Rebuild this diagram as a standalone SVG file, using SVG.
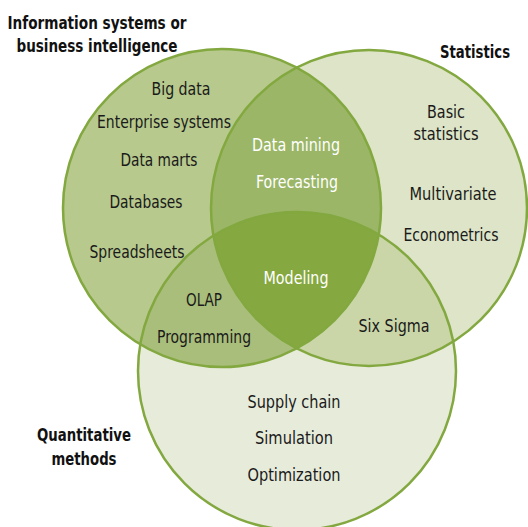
<svg xmlns="http://www.w3.org/2000/svg" width="528" height="527" viewBox="0 0 528 527">
<defs>
<clipPath id="cL"><circle cx="222" cy="208" r="159"/></clipPath>
<clipPath id="cR"><circle cx="369" cy="208" r="158"/></clipPath>
<clipPath id="cB"><circle cx="297" cy="371" r="159"/></clipPath>
<style>
.t{font-family:"DejaVu Sans Condensed","DejaVu Sans",sans-serif;font-size:17px;fill:#1a1a1a;text-anchor:middle}
.w{fill:#ffffff}
.h{font-family:"DejaVu Sans Condensed","DejaVu Sans",sans-serif;font-size:18px;font-weight:bold;fill:#111;text-anchor:middle}
.s{fill:none;stroke:#82a83f;stroke-width:2.5}
</style>
</defs>
<rect width="528" height="527" fill="#ffffff"/>
<g id="regions">
<circle cx="222" cy="208" r="159" fill="#b7c98d"/>
<circle cx="369" cy="208" r="158" fill="#dde4c7"/>
<circle cx="297" cy="371" r="159" fill="#e7ebda"/>
<g clip-path="url(#cL)"><circle cx="369" cy="208" r="158" fill="#9bb667"/></g>
<g clip-path="url(#cL)"><circle cx="297" cy="371" r="159" fill="#a9be7b"/></g>
<g clip-path="url(#cR)"><circle cx="297" cy="371" r="159" fill="#cad6a8"/></g>
<g clip-path="url(#cL)"><g clip-path="url(#cR)"><circle cx="297" cy="371" r="159" fill="#86a840"/></g></g>
</g>
<g id="outlines">
<circle class="s" cx="222" cy="208" r="159"/>
<circle class="s" cx="369" cy="208" r="158"/>
<circle class="s" cx="297" cy="371" r="159"/>
</g>
<g id="info">
<text class="h" x="97" y="29" textLength="179" lengthAdjust="spacingAndGlyphs">Information systems or</text>
<text class="h" x="97" y="52" textLength="161" lengthAdjust="spacingAndGlyphs">business intelligence</text>
<text class="t" x="181" y="95" textLength="59" lengthAdjust="spacingAndGlyphs">Big data</text>
<text class="t" x="164" y="128" textLength="134" lengthAdjust="spacingAndGlyphs">Enterprise systems</text>
<text class="t" x="159" y="166" textLength="77" lengthAdjust="spacingAndGlyphs">Data marts</text>
<text class="t" x="146" y="208" textLength="73" lengthAdjust="spacingAndGlyphs">Databases</text>
<text class="t" x="137" y="258" textLength="95" lengthAdjust="spacingAndGlyphs">Spreadsheets</text>
</g>
<g id="stats">
<text class="h" x="475" y="58" textLength="70" lengthAdjust="spacingAndGlyphs">Statistics</text>
<text class="t" x="446" y="118" textLength="38" lengthAdjust="spacingAndGlyphs">Basic</text>
<text class="t" x="446" y="140" textLength="65" lengthAdjust="spacingAndGlyphs">statistics</text>
<text class="t" x="453" y="200" textLength="87" lengthAdjust="spacingAndGlyphs">Multivariate</text>
<text class="t" x="451" y="241" textLength="95" lengthAdjust="spacingAndGlyphs">Econometrics</text>
</g>
<g id="quant">
<text class="h" x="84" y="441" textLength="94" lengthAdjust="spacingAndGlyphs">Quantitative</text>
<text class="h" x="84" y="465" textLength="65" lengthAdjust="spacingAndGlyphs">methods</text>
<text class="t" x="294" y="408" textLength="93" lengthAdjust="spacingAndGlyphs">Supply chain</text>
<text class="t" x="294" y="444" textLength="78" lengthAdjust="spacingAndGlyphs">Simulation</text>
<text class="t" x="294" y="481" textLength="93" lengthAdjust="spacingAndGlyphs">Optimization</text>
</g>
<g id="info-stats">
<text class="t w" x="296" y="151" textLength="88" lengthAdjust="spacingAndGlyphs">Data mining</text>
<text class="t w" x="297" y="188" textLength="82" lengthAdjust="spacingAndGlyphs">Forecasting</text>
</g>
<g id="info-quant">
<text class="t" x="204" y="306" textLength="36" lengthAdjust="spacingAndGlyphs">OLAP</text>
<text class="t" x="204" y="343" textLength="94" lengthAdjust="spacingAndGlyphs">Programming</text>
</g>
<g id="stats-quant">
<text class="t" x="394" y="332" textLength="71" lengthAdjust="spacingAndGlyphs">Six Sigma</text>
</g>
<g id="all">
<text class="t w" x="296" y="284" textLength="65" lengthAdjust="spacingAndGlyphs">Modeling</text>
</g>
</svg>
